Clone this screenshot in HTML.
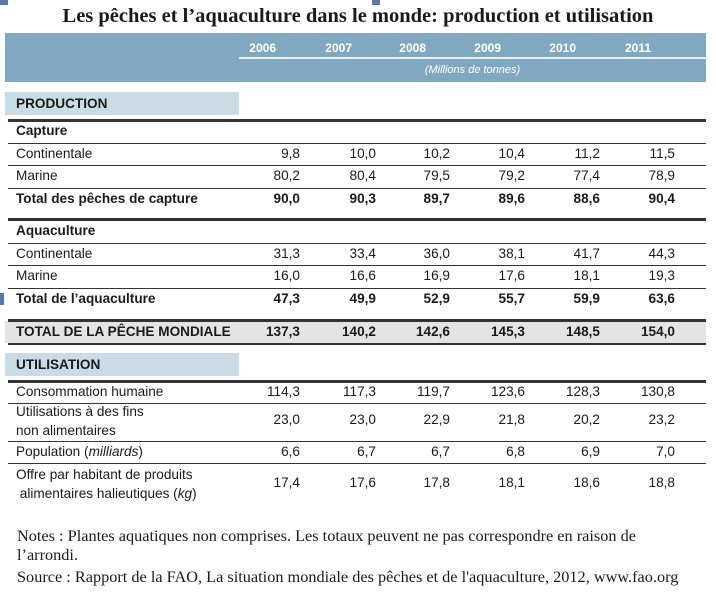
<!DOCTYPE html>
<html><head><meta charset="utf-8"><style>
body{margin:0;width:716px;height:600px;background:#fff;position:relative;overflow:hidden;font-family:"Liberation Sans",sans-serif;color:#1a1a1a}
.a{position:absolute}
.t{position:absolute;font-size:13.6px;line-height:16px;white-space:nowrap}
.b{font-weight:bold}
.v{position:absolute;font-size:13.6px;line-height:16px;text-align:right;width:60px}
.ln{position:absolute;left:8px;width:698px;background:#333}
</style></head><body>
<div class="a" style="left:0;top:0;width:8px;height:5px;background:#5878a8"></div>
<div class="a" style="left:372px;top:0;width:8px;height:5px;background:#5878a8"></div>
<div class="a" style="left:0;top:293px;width:4px;height:12px;background:#5878a8"></div>
<div class="a" style="left:0;top:5px;width:716px;text-align:center;font-family:'Liberation Serif',serif;font-weight:bold;font-size:20.5px">Les pêches et l’aquaculture dans le monde: production et utilisation</div>
<div class="a" style="left:5px;top:33px;width:701px;height:49px;background:#80a8c0"></div>
<div class="a" style="left:239px;top:57px;width:467px;height:2px;background:#e8eff4"></div>
<div class="a" style="left:239px;top:64px;width:467px;text-align:center;color:#fff;font-style:italic;font-size:11px">(Millions de tonnes)</div>
<div class="a" style="left:5px;top:92px;width:234px;height:23px;background:#c9dbe5"></div>
<div class="t b" style="left:16px;top:96px">PRODUCTION</div>
<div class="a" style="left:5px;top:321px;width:701px;height:22px;background:#e4e4e4"></div>
<div class="a" style="left:5px;top:353px;width:234px;height:23px;background:#c9dbe5"></div>
<div class="t b" style="left:16px;top:357px">UTILISATION</div>
<div id="c"></div>
<div class="a" style="left:17px;top:526px;font-family:'Liberation Serif',serif;font-size:16.3px;line-height:19px;width:690px">Notes : Plantes aquatiques non comprises. Les totaux peuvent ne pas correspondre en raison de<br>l’arrondi.<br><span style="position:relative;top:3px">Source : Rapport de la FAO, La situation mondiale des pêches et de l'aquaculture, 2012, www.fao.org</span></div>
<script>
var xs=[300,376,450,525,600,675];
var h='';
['2006','2007','2008','2009','2010','2011'].forEach(function(y,i){h+='<div class="v b" style="left:'+(xs[i]-84)+'px;top:40px;color:#fff;font-size:12px">'+y+'</div>'});
[[119,3],[143,1],[165,1],[188,1],[218,3],[243,1],[265,1],[288,1],[319,3],[343,2],[380,3],[403,1],[441,1],[463,1]].forEach(function(l){h+='<div class="ln" style="top:'+l[0]+'px;height:'+l[1]+'px"></div>'});
var rows=[
[131,'Capture',1,null],
[154,'Continentale',0,['9,8','10,0','10,2','10,4','11,2','11,5']],
[176,'Marine',0,['80,2','80,4','79,5','79,2','77,4','78,9']],
[199,'Total des pêches de capture',1,['90,0','90,3','89,7','89,6','88,6','90,4']],
[231,'Aquaculture',1,null],
[254,'Continentale',0,['31,3','33,4','36,0','38,1','41,7','44,3']],
[276,'Marine',0,['16,0','16,6','16,9','17,6','18,1','19,3']],
[299,'Total de l’aquaculture',1,['47,3','49,9','52,9','55,7','59,9','63,6']],
[332,'TOTAL DE LA PÊCHE MONDIALE',1,['137,3','140,2','142,6','145,3','148,5','154,0']],
[392,'Consommation humaine',0,['114,3','117,3','119,7','123,6','128,3','130,8']],
[420,'Utilisations à des fins<br>non alimentaires',0,['23,0','23,0','22,9','21,8','20,2','23,2'],1],
[452,'Population (<i>milliards</i>)',0,['6,6','6,7','6,7','6,8','6,9','7,0']],
[483,'Offre par habitant de produits<br>&nbsp;alimentaires halieutiques (<i>kg</i>)',0,['17,4','17,6','17,8','18,1','18,6','18,8'],1]
];
rows.forEach(function(r){
 var two=r[4];
 h+='<div class="t'+(r[2]?' b':'')+'" style="left:16px;top:'+(r[0]-(two?18:8))+'px;'+(two?'line-height:19px':'')+'">'+r[1]+'</div>';
 if(r[3])r[3].forEach(function(v,i){h+='<div class="v'+(r[2]?' b':'')+'" style="left:'+(xs[i]-60)+'px;top:'+(r[0]-8)+'px">'+v+'</div>'});
});
document.getElementById('c').innerHTML=h;
</script>
</body></html>
